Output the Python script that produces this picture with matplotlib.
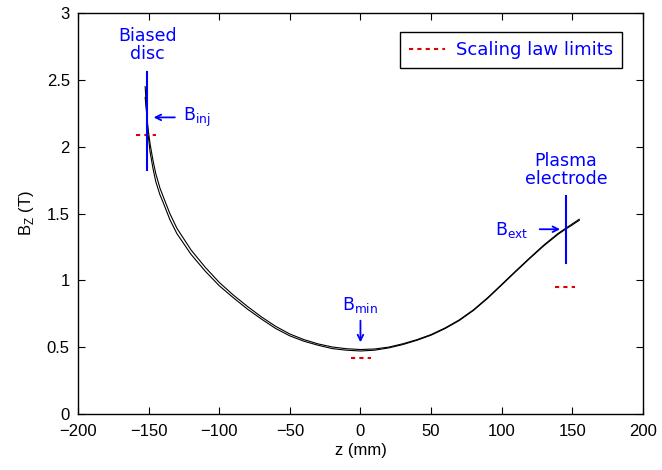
import matplotlib
matplotlib.use("Agg")
import matplotlib.pyplot as plt
from matplotlib.lines import Line2D

# axial field profiles (two curves, z in mm, B in T)
z_pts = [-152.5, -151.5, -150.5, -149, -147, -145, -142, -140, -135, -130,
         -120, -110, -100, -90, -80, -70, -60, -50, -40, -30, -20, -10, 0,
         10, 20, 30, 40, 50, 60, 70, 80, 90, 100, 110, 120, 130, 140, 145,
         150, 155]
b_outer = [2.45, 2.27, 2.10, 1.96, 1.84, 1.74, 1.64, 1.59, 1.455, 1.35,
           1.195, 1.07, 0.96, 0.87, 0.785, 0.71, 0.64, 0.585, 0.545, 0.515,
           0.49, 0.478, 0.472, 0.478, 0.495, 0.52, 0.552, 0.59, 0.64, 0.70,
           0.775, 0.865, 0.965, 1.066, 1.165, 1.26, 1.345, 1.381, 1.415, 1.45]
b_inner = [2.37, 2.255, 2.14, 2.02, 1.90, 1.80, 1.69, 1.635, 1.50, 1.39,
           1.228, 1.099, 0.985, 0.89, 0.805, 0.726, 0.656, 0.599, 0.557,
           0.525, 0.502, 0.489, 0.483, 0.487, 0.501, 0.526, 0.557, 0.595,
           0.645, 0.705, 0.78, 0.87, 0.97, 1.071, 1.17, 1.266, 1.352, 1.388,
           1.423, 1.458]

# scaling law limits: (z_start, z_end, B)
limits_z0 = [-159, -6.7, 137.6]
limits_z1 = [-145, 7.4, 151.9]
limits_b = [2.087, 0.419, 0.95]

z_disc = -151
z_electrode = 145.5

xticks = [-200, -150, -100, -50, 0, 50, 100, 150, 200]
yticks = [0, 0.5, 1, 1.5, 2, 2.5, 3]
ytick_labels = ["0", "0.5", "1", "1.5", "2", "2.5", "3"]

blue = "#0000ff"
red = "#e00000"
ann_font = "DejaVu Sans"

fig = plt.figure(figsize=(6.62, 4.70), dpi=100)
ax = fig.add_axes([0.118, 0.119, 0.853, 0.853])

ax.plot(z_pts, b_outer, color="black", lw=0.8)
ax.plot(z_pts, b_inner, color="black", lw=0.8)

for z0, z1, b in zip(limits_z0, limits_z1, limits_b):
    ax.plot([z0, z1], [b, b], color=red, lw=1.5, dashes=(2, 2))

# biased disc marker
ax.plot([z_disc, z_disc], [1.825, 2.56], color=blue, lw=1.5)
ax.text(z_disc, 2.76, "Biased\ndisc", color=blue, fontsize=12.5, family=ann_font,
        ha="center", va="center", linespacing=1.0)
ax.annotate("", xy=(-148.5, 2.22), xytext=(-129.5, 2.22),
            arrowprops=dict(arrowstyle="->", color=blue, lw=1.3))
ax.text(-126, 2.22, r"B$_\mathregular{inj}$", color=blue, fontsize=12.5,
        family=ann_font, ha="left", va="center")

# plasma electrode marker
ax.plot([z_electrode, z_electrode], [1.13, 1.63], color=blue, lw=1.5)
ax.text(z_electrode, 1.83, "Plasma\nelectrode", color=blue, fontsize=12.5,
        family=ann_font, ha="center", va="center", linespacing=1.0)
ax.annotate("", xy=(143.4, 1.383), xytext=(125, 1.383),
            arrowprops=dict(arrowstyle="->", color=blue, lw=1.3))
ax.text(118.6, 1.376, r"B$_\mathregular{ext}$", color=blue, fontsize=12.5,
        family=ann_font, ha="right", va="center")

# minimum field marker
ax.annotate("", xy=(0, 0.516), xytext=(0, 0.72),
            arrowprops=dict(arrowstyle="->", color=blue, lw=1.3))
ax.text(0, 0.815, r"B$_\mathregular{min}$", color=blue, fontsize=12.5,
        family=ann_font, ha="center", va="center")

ax.set_xlim(-200, 200)
ax.set_ylim(0, 3)
ax.set_xticks(xticks)
ax.set_yticks(yticks)
ax.set_xticklabels([str(t).replace("-", "\u2212") for t in xticks],
                   family="Liberation Sans", fontsize=12)
ax.set_yticklabels(ytick_labels, family="Liberation Sans", fontsize=12)
ax.tick_params(direction="in", top=True, right=True, length=5, width=0.8)
ax.tick_params(axis="x", pad=7)
ax.tick_params(axis="y", pad=6)
for s in ax.spines.values():
    s.set_linewidth(1.0)

ax.set_xlabel("z (mm)", family="Liberation Sans", fontsize=12, labelpad=3)
ax.set_ylabel(r"B$_\mathregular{Z}$ (T)", family="Liberation Sans",
              fontsize=12, labelpad=8)

handle = Line2D([], [], color=red, lw=1.5, dashes=(2, 2))
leg = ax.legend([handle], ["Scaling law limits"], loc="upper right",
                bbox_to_anchor=(0.963, 0.953), borderaxespad=0,
                fancybox=False, edgecolor="black", framealpha=1,
                prop={"family": ann_font, "size": 13}, labelcolor=blue,
                handlelength=2.0, borderpad=0.5, handletextpad=0.6)
leg.get_frame().set_linewidth(1.0)

fig.savefig("out.png", dpi=100)
